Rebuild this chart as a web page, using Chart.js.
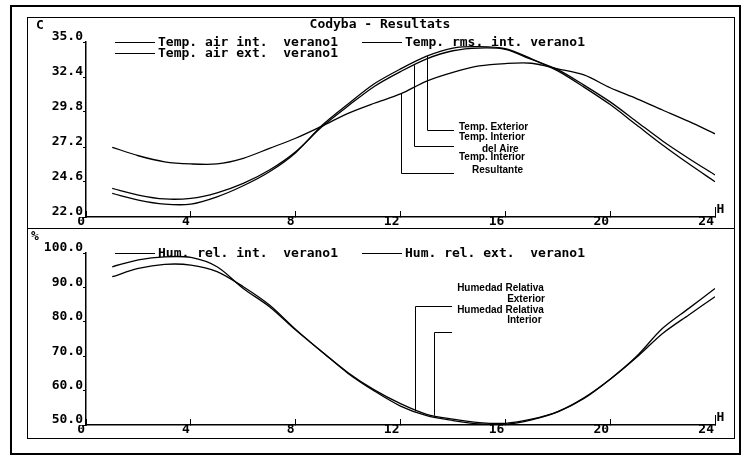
<!DOCTYPE html>
<html>
<head>
<meta charset="utf-8">
<script src="https://cdn.jsdelivr.net/npm/chart.js@4.4.1/dist/chart.umd.min.js"></script>
<style>
  body { margin: 0; background: #fff; }
  #frame { position: absolute; left: 10px; top: 5px; width: 727px; height: 446px; border: 2px solid #000; }
  canvas { position: absolute; }
  #tempChart { left: 27px; top: 17px; }
  #humChart { left: 27px; top: 228px; }
</style>
</head>
<body>
<div id="frame"></div>
<canvas id="tempChart" width="708" height="212"></canvas>
<canvas id="humChart" width="708" height="211"></canvas>
<script>
// Data (hourly values, hour 1..24)
const hours = [1, 2, 3, 4, 5, 6, 7, 8, 9, 10, 11, 12, 13, 14, 15, 16, 17, 18, 19, 20, 21, 22, 23, 24];
const hourTicks = [0, 4, 8, 12, 16, 20, 24];

const tempAirInt = [24.13, 23.63, 23.34, 23.39, 23.8, 24.5, 25.49, 26.85, 28.7, 30.25, 31.7, 32.8,
  33.75, 34.35, 34.55, 34.45, 33.7, 32.95, 31.8, 30.55, 29.1, 27.65, 26.35, 25.12];
const tempAirExt = [23.76, 23.26, 22.96, 22.96, 23.5, 24.32, 25.36, 26.78, 28.8, 30.4, 31.9, 33.0,
  33.95, 34.55, 34.65, 34.5, 33.75, 32.85, 31.65, 30.35, 28.85, 27.35, 25.95, 24.62];
const tempRmsInt = [27.18, 26.55, 26.1, 25.94, 25.94, 26.36, 27.1, 27.85, 28.75, 29.7, 30.45, 31.14,
  32.1, 32.75, 33.22, 33.4, 33.42, 33.0, 32.55, 31.6, 30.8, 29.95, 29.1, 28.18];
const tempTicks = [22.0, 24.6, 27.2, 29.8, 32.4, 35.0];

const humRelInt = [93.1, 95.5, 96.7, 96.5, 94.6, 90.2, 84.9, 77.8, 71.3, 65.2, 60.2, 56.2,
  53.1, 51.7, 50.7, 50.5, 51.7, 53.9, 57.9, 63.3, 69.6, 76.6, 82.0, 87.3];
const humRelExt = [96.0, 98.0, 98.9, 98.7, 96.0, 89.7, 84.4, 77.6, 71.3, 65.0, 59.9, 55.5,
  52.7, 51.3, 50.3, 50.2, 51.5, 53.8, 57.7, 63.3, 69.9, 78.1, 83.9, 89.7];
const humTicks = [50.0, 60.0, 70.0, 80.0, 90.0, 100.0];

const tempLabels = ["Temp. air int.  verano1", "Temp. air ext.  verano1", "Temp. rms. int. verano1"];
const humLabels = ["Hum. rel. int.  verano1", "Hum. rel. ext.  verano1"];

const FONT_MONO = 'bold 13px "DejaVu Sans Mono"';
const FONT_NOTE = 'bold 10px "Liberation Sans"';

function valueAt(series, hour) {
  const i = Math.floor(hour) - 1;
  const f = hour - Math.floor(hour);
  const a = series[i];
  const b = series[Math.min(i + 1, series.length - 1)];
  return a + (b - a) * f;
}

// callouts: anchor on a curve, elbow level, end hour, text offsets from the end point
const tempNotes = [
  { series: tempAirExt, hour: 13, elbow: 28.46, end: 14.04, lines: [["Temp. Exterior", 5, -3]] },
  { series: tempAirInt, hour: 12.5, elbow: 27.27, end: 14.04, lines: [["Temp. Interior", 5, -9], ["del Aire", 28, 3]] },
  { series: tempRmsInt, hour: 12, elbow: 25.27, end: 14.04, lines: [["Temp. Interior", 5, -16], ["Resultante", 18, -3]] },
];
const humNotes = [
  { series: humRelExt, hour: 12.56, elbow: 84.6, end: 13.97,
    lines: [["Humedad Relativa", 5, -18], ["Exterior", 55, -7], ["Humedad Relativa", 5, 4], ["Interior", 55, 14]] },
  { series: humRelInt, hour: 13.28, elbow: 77.0, end: 13.97, lines: [] },
];

function decor(opts) {
  return {
    id: "decor",
    afterDraw(chart) {
      const ctx = chart.ctx;
      const x = chart.scales.x, y = chart.scales.y;
      ctx.save();
      ctx.strokeStyle = "#000";
      ctx.fillStyle = "#000";
      ctx.lineWidth = 1;
      ctx.strokeRect(0.5, 0.5, chart.width - 1, chart.height - 1);

      ctx.font = FONT_MONO;
      ctx.textBaseline = "alphabetic";
      ctx.textAlign = "left";
      ctx.fillText(opts.unit, opts.unitX, 12);
      if (opts.title) {
        ctx.textAlign = "center";
        ctx.fillText(opts.title, 353, 11);
      }

      // legend
      ctx.textAlign = "left";
      chart.data.datasets.forEach((ds, i) => {
        const s = opts.slots[i];
        ctx.beginPath();
        ctx.moveTo(s[0], s[1] + 0.5);
        ctx.lineTo(s[0] + 40, s[1] + 0.5);
        ctx.stroke();
        ctx.fillText(ds.label, s[0] + 43, s[1] + 4);
      });

      // H marker at the end of the hour axis
      const xe = Math.round(x.getPixelForValue(24)) + 0.5;
      ctx.beginPath();
      ctx.moveTo(xe, y.bottom);
      ctx.lineTo(xe, y.bottom - 10);
      ctx.stroke();
      ctx.textBaseline = "bottom";
      ctx.fillText("H", xe + 1, y.bottom - 1);

      // callouts
      ctx.font = FONT_NOTE;
      ctx.textBaseline = "middle";
      opts.notes.forEach(n => {
        const px = Math.round(x.getPixelForValue(n.hour)) + 0.5;
        const py = y.getPixelForValue(valueAt(n.series, n.hour));
        const ey = Math.round(y.getPixelForValue(n.elbow)) + 0.5;
        const ex = x.getPixelForValue(n.end);
        ctx.beginPath();
        ctx.moveTo(px, py);
        ctx.lineTo(px, ey);
        ctx.lineTo(ex, ey);
        ctx.stroke();
        n.lines.forEach(l => ctx.fillText(l[0], ex + l[1], ey + l[2]));
      });
      ctx.restore();
    },
  };
}

function makeChart(id, seriesList, labels, yMin, yMax, yTicks, xHeight, decorOpts) {
  return new Chart(document.getElementById(id), {
    type: "line",
    data: {
      datasets: seriesList.map((s, i) => ({
        label: labels[i],
        data: hours.map((h, j) => ({ x: h, y: s[j] })),
        borderColor: "#000",
        borderWidth: 1.3,
        pointRadius: 0,
        tension: 0.3,
        fill: false,
      })),
    },
    options: {
      responsive: false,
      animation: false,
      layout: { padding: { left: 0, top: 25, right: 20, bottom: 0 } },
      plugins: { legend: { display: false }, title: { display: false }, tooltip: { enabled: false } },
      scales: {
        x: {
          type: "linear",
          min: 0,
          max: 24,
          afterBuildTicks: s => { s.ticks = hourTicks.map(v => ({ value: v })); },
          afterFit: s => { s.height = xHeight; },
          ticks: { font: { family: "DejaVu Sans Mono", size: 13, weight: "bold" }, color: "#000",
            align: "end", labelOffset: -1, padding: 3, maxRotation: 0, autoSkip: false },
          grid: { drawOnChartArea: false, drawTicks: true, tickLength: -6, color: "#000", lineWidth: 1 },
          border: { color: "#000", width: 1.5 },
        },
        y: {
          min: yMin,
          max: yMax,
          afterBuildTicks: s => { s.ticks = yTicks.map(v => ({ value: v })); },
          afterFit: s => { s.width = 59; },
          ticks: { font: { family: "DejaVu Sans Mono", size: 13, weight: "bold" }, color: "#000",
            padding: 0, labelOffset: -5, callback: v => v.toFixed(1) },
          grid: { drawOnChartArea: false, drawTicks: true, tickLength: 3, color: "#000", lineWidth: 1 },
          border: { color: "#000", width: 1.5 },
        },
      },
    },
    plugins: [decor(decorOpts)],
  });
}

makeChart("tempChart", [tempAirInt, tempAirExt, tempRmsInt], tempLabels, 22, 35, tempTicks, 12, {
  unit: "C", unitX: 9, title: "Codyba - Resultats",
  slots: [[88, 25], [88, 36], [335, 25]],
  notes: tempNotes,
});

makeChart("humChart", [humRelInt, humRelExt], humLabels, 50, 100, humTicks, 14, {
  unit: "%", unitX: 4, title: null,
  slots: [[88, 25], [335, 25]],
  notes: humNotes,
});
</script>
</body>
</html>
